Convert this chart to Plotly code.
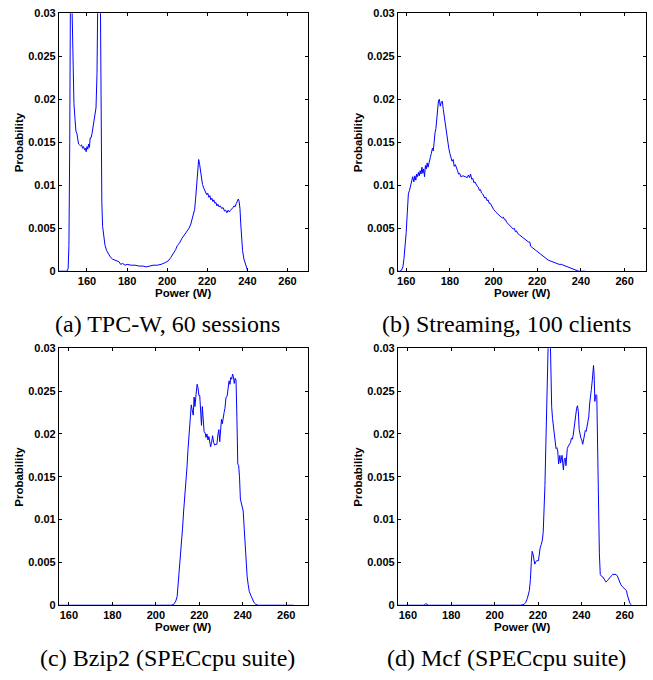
import plotly.graph_objects as go

# ---------------- data (Power in W, Probability) ----------------
a_power = [146.0, 148.0, 150.0, 150.6, 151.0, 151.4, 151.8, 152.2, 152.6, 153.0, 153.5, 154.0, 154.5, 155.0,
           155.4, 155.8, 156.3, 156.8, 157.3, 157.8, 158.3, 158.8, 159.2, 159.6, 160.0, 160.4, 160.8, 161.2,
           161.6, 162.0, 162.5, 163.0, 163.5, 164.0, 164.5, 165.0, 165.4, 165.8, 166.2, 166.6, 167.0, 167.4,
           167.8, 168.3, 169.0, 169.8, 170.8, 171.8, 172.8, 174.0, 175.0, 176.0, 176.8, 177.8, 179.0, 180.0,
           182.0, 184.0, 186.0, 188.0, 189.5, 191.0, 193.0, 195.0, 197.0, 199.0, 200.5, 201.8, 203.0, 204.2,
           205.1, 206.2, 207.3, 208.4, 209.5, 210.3, 210.9, 211.8, 212.6, 213.2, 213.7, 214.2, 214.7, 215.2,
           215.7, 216.2, 216.7, 217.2, 217.6, 218.2, 218.7, 219.2, 219.7, 220.2, 220.8, 221.3, 221.8, 222.3,
           222.8, 223.3, 223.8, 224.3, 224.8, 225.3, 225.8, 226.5, 227.2, 227.9, 228.6, 229.2, 229.8, 230.4,
           231.0, 231.6, 232.2, 232.8, 233.3, 233.9, 234.5, 235.0, 235.5, 235.9, 236.3, 236.7, 237.1, 237.6,
           238.3, 239.0, 239.6, 240.2]
a_prob = [0, 0, 0, 0.0003, 0.003, 0.015, 0.040, 0.055, 0.030, 0.024, 0.0195, 0.0178, 0.0163, 0.0160,
          0.0155, 0.0148, 0.0147, 0.0146, 0.0147, 0.0143, 0.0145, 0.0141, 0.0143, 0.0139, 0.0145, 0.0142, 0.0148, 0.0144,
          0.0155, 0.0155, 0.0160, 0.0168, 0.0175, 0.0182, 0.0190, 0.0230, 0.0320, 0.0450, 0.0500, 0.0350, 0.0200, 0.0080,
          0.0052, 0.0040, 0.0030, 0.0024, 0.0019, 0.0016, 0.0014, 0.0013, 0.0012, 0.0011, 0.0008, 0.0009, 0.0007, 0.0008,
          0.0007, 0.0007, 0.0006, 0.0006, 0.0005, 0.0006, 0.0007, 0.0007, 0.0008, 0.0010, 0.0012, 0.0016, 0.0020, 0.0025,
          0.0030, 0.0033, 0.0038, 0.0042, 0.0045, 0.0049, 0.0050, 0.0055, 0.0061, 0.0066, 0.0072, 0.0085, 0.0103, 0.0118,
          0.0130, 0.0124, 0.0116, 0.0106, 0.0101, 0.0097, 0.0094, 0.0093, 0.0089, 0.0091, 0.0086, 0.0088, 0.0083, 0.0085,
          0.0081, 0.0083, 0.0079, 0.0080, 0.0076, 0.0078, 0.0075, 0.0076, 0.0073, 0.0074, 0.0070, 0.0071, 0.0068, 0.0071,
          0.0069, 0.0071, 0.0072, 0.0074, 0.0076, 0.0075, 0.0079, 0.0082, 0.0084, 0.0081, 0.0073, 0.0055, 0.0038, 0.0024,
          0.0014, 0.0008, 0.0003, 0]

b_power = [156.2, 157.0, 157.8, 158.5, 159.0, 159.5, 160.0, 160.5, 161.0, 161.5, 162.0, 162.5, 163.0, 163.5,
           164.0, 164.4, 164.8, 165.2, 165.6, 166.0, 166.4, 166.8, 167.2, 167.6, 168.0, 168.4, 168.8, 169.2,
           169.6, 170.0, 170.5, 171.0, 171.5, 172.0, 172.4, 172.8, 173.2, 173.6, 174.0, 174.4, 174.8, 175.2,
           175.6, 176.0, 176.5, 177.0, 177.5, 178.0, 178.5, 179.0, 179.5, 180.0, 180.5, 181.0, 181.5, 182.0,
           182.5, 183.0, 183.5, 184.0, 184.5, 185.0, 186.0, 187.0, 188.0, 188.5, 189.0, 189.5, 190.0, 190.5,
           191.0, 191.5, 192.0, 192.5, 193.0, 193.5, 194.0, 194.5, 195.0, 195.5, 196.0, 196.5, 197.0, 197.5,
           198.0, 198.5, 199.0, 200.0, 201.0, 202.0, 203.0, 204.0, 204.5, 205.0, 205.5, 206.0, 207.0, 208.0,
           209.0, 209.5, 210.0, 210.5, 211.0, 212.0, 213.0, 214.0, 215.0, 216.0, 216.6, 217.0, 218.0, 219.0,
           220.0, 221.0, 222.0, 223.0, 224.0, 225.0, 226.0, 227.0, 228.0, 229.0, 230.0, 231.0, 232.0, 233.0,
           234.0, 235.0, 236.0, 237.0, 238.0, 239.0, 242.0]
b_prob = [0, 0, 0.0001, 0.0005, 0.0015, 0.0028, 0.0045, 0.0068, 0.0090, 0.0094, 0.0100, 0.0106, 0.0110, 0.0104,
          0.0111, 0.0106, 0.0113, 0.0110, 0.0115, 0.0111, 0.0117, 0.0113, 0.0121, 0.0114, 0.0119, 0.0110, 0.0123, 0.0119,
          0.0126, 0.0121, 0.0129, 0.0132, 0.0137, 0.0143, 0.0140, 0.0153, 0.0161, 0.0166, 0.0178, 0.0188, 0.0199, 0.0200,
          0.0192, 0.0196, 0.0198, 0.0188, 0.0178, 0.0170, 0.0160, 0.0152, 0.0143, 0.0137, 0.0133, 0.0128, 0.0130, 0.0122,
          0.0124, 0.0119, 0.0117, 0.0113, 0.0114, 0.0110, 0.0111, 0.0110, 0.0109, 0.0112, 0.0109, 0.0113, 0.0107, 0.0108,
          0.0103, 0.0104, 0.0101, 0.0099, 0.0098, 0.0094, 0.0095, 0.0091, 0.0090, 0.0088, 0.0085, 0.0086, 0.0082, 0.0083,
          0.0079, 0.0079, 0.0076, 0.0072, 0.0069, 0.0066, 0.0064, 0.0062, 0.0063, 0.0060, 0.0060, 0.0057, 0.0054, 0.0051,
          0.0049, 0.0050, 0.0046, 0.0047, 0.0044, 0.0042, 0.0040, 0.0038, 0.0036, 0.0034, 0.0034, 0.0029, 0.0027, 0.0025,
          0.0022, 0.0020, 0.0018, 0.0016, 0.0015, 0.0013, 0.0012, 0.0011, 0.0010, 0.0009, 0.0008, 0.0008, 0.0007, 0.0006,
          0.0005, 0.0004, 0.0003, 0.0002, 0.0001, 0, 0]

c_power = [155.4, 180.0, 200.0, 207.0, 208.2, 209.2, 209.8, 210.3, 210.8, 211.3, 211.8, 212.3, 212.8, 213.3,
           213.8, 214.3, 214.8, 215.3, 215.8, 216.3, 216.8, 217.2, 217.6, 218.0, 218.5, 219.0, 219.4, 219.8,
           220.2, 220.6, 221.0, 221.4, 221.8, 222.2, 222.7, 223.1, 223.5, 224.0, 224.4, 224.8, 225.2, 225.6,
           226.1, 226.6, 227.1, 227.6, 228.1, 228.6, 229.0, 229.4, 229.8, 230.2, 230.6, 231.0, 231.4, 231.8,
           232.3, 232.8, 233.3, 233.7, 234.1, 234.5, 234.9, 235.3, 235.7, 236.1, 236.5, 236.9, 237.3, 237.7,
           238.1, 238.5, 238.9, 239.3, 239.8, 240.2, 240.7, 241.2, 241.6, 242.0, 242.5, 243.0, 243.8, 244.5,
           245.2, 246.0, 247.0, 263.5]
c_prob = [0, 0, 0, 0, 0.0001, 0.0005, 0.0010, 0.0025, 0.0037, 0.0055, 0.0070, 0.0090, 0.0110, 0.0125,
          0.0140, 0.0160, 0.0182, 0.0202, 0.0218, 0.0234, 0.0227, 0.0222, 0.0243, 0.0232, 0.0246, 0.0258, 0.0254, 0.0245,
          0.0245, 0.0230, 0.0210, 0.0232, 0.0218, 0.0203, 0.0201, 0.0196, 0.0200, 0.0193, 0.0197, 0.0189, 0.0185, 0.0189,
          0.0198, 0.0190, 0.0187, 0.0188, 0.0188, 0.0200, 0.0205, 0.0191, 0.0205, 0.0217, 0.0212, 0.0223, 0.0225, 0.0230,
          0.0243, 0.0244, 0.0260, 0.0262, 0.0258, 0.0266, 0.0264, 0.0270, 0.0267, 0.0259, 0.0265, 0.0263, 0.0220, 0.0165,
          0.0163, 0.0150, 0.0124, 0.0120, 0.0115, 0.0110, 0.0088, 0.0065, 0.0048, 0.0034, 0.0024, 0.0016, 0.0011, 0.0006,
          0.0003, 0.0001, 0, 0]

d_power = [155.4, 167.5, 168.2, 168.8, 169.5, 212.0, 213.5, 214.3, 215.1, 216.0, 216.5, 216.9, 217.3, 217.7,
           218.1, 218.5, 219.0, 219.5, 220.2, 220.6, 221.0, 221.5, 222.0, 222.4, 222.8, 223.2, 223.6, 224.0,
           224.4, 224.8, 225.2, 225.6, 226.0, 226.3, 226.7, 227.1, 227.5, 227.9, 228.3, 228.7, 229.1, 229.5,
           229.8, 230.1, 230.4, 230.7, 231.1, 231.4, 231.7, 232.1, 232.5, 232.9, 233.2, 233.5, 234.0, 234.5,
           235.0, 235.4, 235.8, 236.2, 236.6, 237.0, 237.4, 237.8, 238.2, 238.6, 239.0, 239.4, 239.8, 240.2,
           240.6, 241.0, 241.4, 241.8, 242.2, 242.6, 243.0, 243.4, 243.8, 244.2, 244.6, 245.0, 245.3, 245.6,
           245.9, 246.2, 246.5, 246.8, 247.1, 247.5, 247.9, 248.3, 248.7, 249.2, 249.9, 250.6, 251.4, 252.1,
           252.9, 253.7, 254.5, 255.3, 256.0, 256.6, 257.0, 257.6, 258.2, 258.8, 259.5, 260.2, 260.8, 261.3,
           261.8, 262.4, 263.2]
d_prob = [0, 0, 0.0002, 0.0001, 0, 0, 0.0001, 0.0003, 0.0008, 0.0017, 0.0030, 0.0050, 0.0063, 0.0060,
          0.0055, 0.0048, 0.0051, 0.0052, 0.0052, 0.0062, 0.0067, 0.0071, 0.0076, 0.0085, 0.0105, 0.0140, 0.0185, 0.0228,
          0.0280, 0.0340, 0.0360, 0.0320, 0.0260, 0.0232, 0.0218, 0.0210, 0.0200, 0.0190, 0.0183, 0.0184, 0.0180, 0.0165,
          0.0172, 0.0175, 0.0166, 0.0172, 0.0175, 0.0166, 0.0158, 0.0170, 0.0172, 0.0163, 0.0170, 0.0183, 0.0186, 0.0189,
          0.0190, 0.0195, 0.0194, 0.0198, 0.0207, 0.0209, 0.0220, 0.0230, 0.0233, 0.0226, 0.0205, 0.0197, 0.0195, 0.0193,
          0.0188, 0.0193, 0.0200, 0.0204, 0.0203, 0.0210, 0.0219, 0.0220, 0.0235, 0.0248, 0.0252, 0.0262, 0.0272, 0.0280,
          0.0268, 0.0238, 0.0244, 0.0246, 0.0245, 0.0180, 0.0110, 0.0060, 0.0036, 0.0034, 0.0033, 0.0030, 0.0027, 0.0029,
          0.0032, 0.0034, 0.0036, 0.0036, 0.0036, 0.0034, 0.0031, 0.0027, 0.0024, 0.0022, 0.0020, 0.0019, 0.0017, 0.0011,
          0.0005, 0.0002, 0]

captions = ["(a) TPC-W, 60 sessions", "(b) Streaming, 100 clients",
            "(c) Bzip2 (SPECcpu suite)", "(d) Mcf (SPECcpu suite)"]
x_tickvals = [160, 180, 200, 220, 240, 260]
y_tickvals = [0, 0.005, 0.01, 0.015, 0.02, 0.025, 0.03]
y_ticktext = ["0", "0.005", "0.01", "0.015", "0.02", "0.025", "0.03"]
x_ranges = [[146.0, 270.0], [156.2, 269.8], [155.4, 269.8], [155.4, 269.8]]

# ---------------- layout geometry ----------------
W, H = 653, 680
def px_x(p):
    return p / W
def px_y(p):
    return 1 - p / H

x_doms = [[px_x(58), px_x(307)], [px_x(397.5), px_x(646)], [px_x(58), px_x(307)], [px_x(397.5), px_x(646)]]
y_doms = [[px_y(270), px_y(7.5)], [px_y(270), px_y(7.5)], [px_y(610), px_y(348.5)], [px_y(610), px_y(348.5)]]

tick_font = dict(family="Liberation Sans, Arial, sans-serif", size=11, color="black", weight="bold")
title_font = dict(family="Liberation Sans, Arial, sans-serif", size=11.5, color="black", weight="bold")
cap_font = dict(family="Liberation Serif, Times New Roman, serif", size=24, color="black")

fig = go.Figure()
series = [(a_power, a_prob), (b_power, b_prob), (c_power, c_prob), (d_power, d_prob)]
layout_axes = {}
annotations = []
for i, (xs, ys) in enumerate(series):
    n = "" if i == 0 else str(i + 1)
    fig.add_trace(go.Scatter(x=xs, y=ys, mode="lines", line=dict(color="#0000ff", width=1),
                             xaxis="x" + n, yaxis="y" + n, showlegend=False, hoverinfo="skip"))
    common = dict(showline=True, linecolor="black", linewidth=1, mirror="ticks", ticks="inside",
                  ticklen=3, tickcolor="black", showgrid=False, zeroline=False, tickfont=tick_font)
    layout_axes["xaxis" + n] = dict(domain=x_doms[i], range=x_ranges[i], tickvals=x_tickvals,
                                    anchor="y" + n, **common)
    layout_axes["yaxis" + n] = dict(domain=y_doms[i], range=[0, 0.03], tickvals=y_tickvals,
                                    ticktext=y_ticktext, anchor="x" + n, **common)
    xc = (x_doms[i][0] + x_doms[i][1]) / 2
    yc = (y_doms[i][0] + y_doms[i][1]) / 2
    top = i < 2
    annotations.append(dict(text="Power (W)", x=xc, y=px_y(292 if top else 632), xref="paper", yref="paper",
                            showarrow=False, font=title_font, xanchor="center", yanchor="middle"))
    annotations.append(dict(text="Probability", x=x_doms[i][0] - 40 / W, y=yc, xref="paper", yref="paper",
                            showarrow=False, font=title_font, textangle=-90, xanchor="center", yanchor="middle"))
    annotations.append(dict(text=captions[i], x=px_x(166.5 if i % 2 == 0 else 506.7),
                            y=px_y(324 if top else 664), xref="paper", yref="paper",
                            showarrow=False, font=cap_font, xanchor="center", yanchor="middle"))

fig.update_layout(width=W, height=H, margin=dict(l=0, r=0, t=0, b=0),
                  paper_bgcolor="white", plot_bgcolor="white", annotations=annotations, **layout_axes)
fig.write_html("out.html", config={"displayModeBar": False},
               post_script="document.body.style.margin='0';document.body.style.overflow='hidden';")
